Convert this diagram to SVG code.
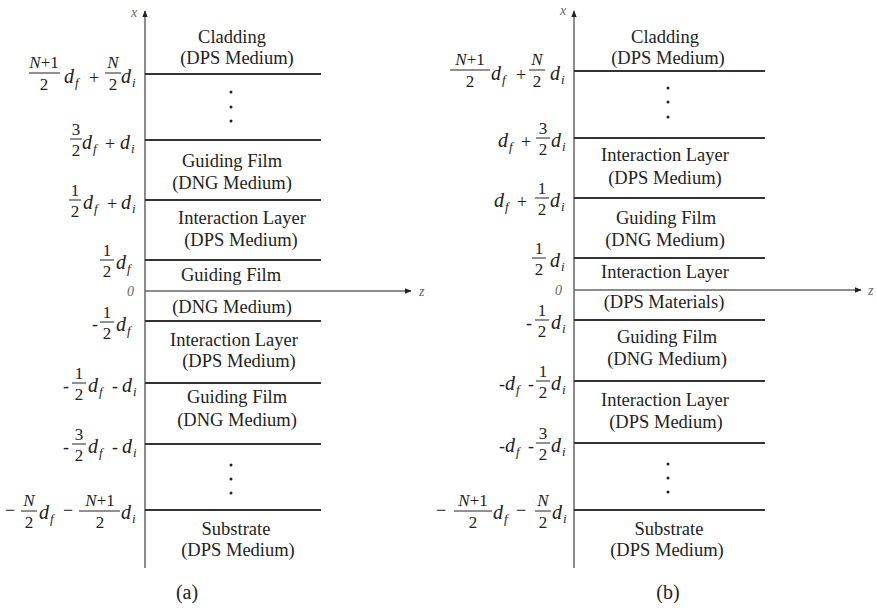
<svg xmlns="http://www.w3.org/2000/svg" width="877" height="611" viewBox="0 0 877 611">
<style>
text{font-family:'Liberation Serif','DejaVu Serif','Times New Roman',serif}
.t{font-size:18.5px;fill:#222;text-anchor:middle}
.cap{font-size:20px;fill:#222;text-anchor:middle}
.d{font-style:italic;font-size:20px;fill:#222}
.s{font-style:italic;font-size:13px;fill:#222}
.n{font-size:17px;fill:#222;text-anchor:middle}
.ni{font-size:17px;fill:#222;text-anchor:middle}
.op{font-size:18px;fill:#222;text-anchor:middle}
.ax{font-style:italic;font-size:14px;fill:#666}
.layer{stroke:#333;stroke-width:2}
.axis{stroke:#666;stroke-width:1.5;fill:none}
.bar{stroke:#222;stroke-width:1}
.dot{fill:#222}
</style>
<defs>
<marker id="arr" viewBox="0 0 10 10" refX="9" refY="5" markerWidth="7" markerHeight="7" orient="auto" markerUnits="userSpaceOnUse">
<path d="M0,1 L10,5 L0,9 z" fill="#222"/>
</marker>
</defs>

<g id="connectors">
<line class="axis" x1="145" y1="568" x2="145" y2="11" marker-end="url(#arr)"/>
<line class="axis" x1="145" y1="291" x2="411" y2="291" marker-end="url(#arr)"/>
<line class="axis" x1="574" y1="568" x2="574" y2="11" marker-end="url(#arr)"/>
<line class="axis" x1="574" y1="290" x2="861" y2="290" marker-end="url(#arr)"/>
<g id="lines-a">
<line class="layer" x1="145" y1="74" x2="321" y2="74"/>
<line class="layer" x1="145" y1="140" x2="321" y2="140"/>
<line class="layer" x1="145" y1="200" x2="321" y2="200"/>
<line class="layer" x1="145" y1="260" x2="321" y2="260"/>
<line class="layer" x1="145" y1="321" x2="321" y2="321"/>
<line class="layer" x1="145" y1="383" x2="321" y2="383"/>
<line class="layer" x1="145" y1="444" x2="321" y2="444"/>
<line class="layer" x1="145" y1="510" x2="321" y2="510"/>
</g>
<g id="lines-b">
<line class="layer" x1="574" y1="71" x2="765" y2="71"/>
<line class="layer" x1="574" y1="138" x2="765" y2="138"/>
<line class="layer" x1="574" y1="198" x2="765" y2="198"/>
<line class="layer" x1="574" y1="258" x2="765" y2="258"/>
<line class="layer" x1="574" y1="320" x2="765" y2="320"/>
<line class="layer" x1="574" y1="381" x2="765" y2="381"/>
<line class="layer" x1="574" y1="443" x2="765" y2="443"/>
<line class="layer" x1="574" y1="510" x2="765" y2="510"/>
</g>
</g>

<g id="axis-labels">
<text class="ax" x="131" y="17">x</text>
<text class="ax" x="419" y="296">z</text>
<text class="ax" x="127" y="296">0</text>
<text class="ax" x="560" y="15">x</text>
<text class="ax" x="868" y="295">z</text>
<text class="ax" x="555" y="295">0</text>
</g>

<g id="a-cladding"><text class="t" x="232" y="43">Cladding</text><text class="t" x="237" y="64">(DPS Medium)</text></g>
<g id="a-dots-top"><circle class="dot" cx="231" cy="92" r="1.5"/><circle class="dot" cx="231" cy="107" r="1.5"/><circle class="dot" cx="231" cy="121" r="1.5"/></g>
<g id="a-film1"><text class="t" x="232" y="167">Guiding Film</text><text class="t" x="232" y="189">(DNG Medium)</text></g>
<g id="a-inter1"><text class="t" x="242" y="224">Interaction Layer</text><text class="t" x="241" y="246">(DPS Medium)</text></g>
<g id="a-film2"><text class="t" x="231" y="281">Guiding Film</text><text class="t" x="232" y="313">(DNG Medium)</text></g>
<g id="a-inter2"><text class="t" x="234" y="346">Interaction Layer</text><text class="t" x="239" y="367">(DPS Medium)</text></g>
<g id="a-film3"><text class="t" x="237" y="403">Guiding Film</text><text class="t" x="237" y="426">(DNG Medium)</text></g>
<g id="a-dots-bot"><circle class="dot" cx="231" cy="465" r="1.5"/><circle class="dot" cx="231" cy="479" r="1.5"/><circle class="dot" cx="231" cy="493" r="1.5"/></g>
<g id="a-substrate"><text class="t" x="236" y="535">Substrate</text><text class="t" x="238" y="556">(DPS Medium)</text></g>
<g id="a-caption"><text class="cap" x="187" y="599">(a)</text></g>

<g id="b-cladding"><text class="t" x="665" y="43">Cladding</text><text class="t" x="668" y="64">(DPS Medium)</text></g>
<g id="b-dots-top"><circle class="dot" cx="668" cy="88" r="1.5"/><circle class="dot" cx="668" cy="102" r="1.5"/><circle class="dot" cx="668" cy="117" r="1.5"/></g>
<g id="b-inter1"><text class="t" x="665" y="161">Interaction Layer</text><text class="t" x="665" y="184">(DPS Medium)</text></g>
<g id="b-film1"><text class="t" x="666" y="224">Guiding Film</text><text class="t" x="665" y="246">(DNG Medium)</text></g>
<g id="b-inter2"><text class="t" x="665" y="278">Interaction Layer</text><text class="t" x="664" y="308">(DPS Materials)</text></g>
<g id="b-film2"><text class="t" x="667" y="343">Guiding Film</text><text class="t" x="667" y="365">(DNG Medium)</text></g>
<g id="b-inter3"><text class="t" x="665" y="406">Interaction Layer</text><text class="t" x="666" y="428">(DPS Medium)</text></g>
<g id="b-dots-bot"><circle class="dot" cx="668" cy="464" r="1.5"/><circle class="dot" cx="668" cy="478" r="1.5"/><circle class="dot" cx="668" cy="492" r="1.5"/></g>
<g id="b-substrate"><text class="t" x="669" y="535">Substrate</text><text class="t" x="667" y="556">(DPS Medium)</text></g>
<g id="b-caption"><text class="cap" x="668" y="599">(b)</text></g>

<g id="a-l1">
<text class="ni" x="44" y="68"><tspan font-style="italic">N</tspan>+1</text>
<line class="bar" x1="29" y1="73" x2="60" y2="73"/>
<text class="n" x="44" y="90">2</text>
<text class="d" x="64" y="83">d</text><text class="s" x="75" y="87">f</text>
<text class="op" x="94" y="84">+</text>
<text class="ni" x="113" y="68" font-style="italic">N</text>
<line class="bar" x1="105" y1="73" x2="121" y2="73"/>
<text class="n" x="113" y="90">2</text>
<text class="d" x="121" y="83">d</text><text class="s" x="132" y="87">i</text>
</g>
<g id="a-l2">
<text class="n" x="76" y="135">3</text>
<line class="bar" x1="70" y1="139" x2="82" y2="139"/>
<text class="n" x="76" y="156">2</text>
<text class="d" x="82" y="149">d</text><text class="s" x="93" y="153">f</text>
<text class="op" x="110" y="150">+</text>
<text class="d" x="120" y="149">d</text><text class="s" x="131" y="153">i</text>
</g>
<g id="a-l3">
<text class="n" x="75" y="196">1</text>
<line class="bar" x1="69" y1="200" x2="81" y2="200"/>
<text class="n" x="75" y="217">2</text>
<text class="d" x="83" y="209">d</text><text class="s" x="94" y="213">f</text>
<text class="op" x="112" y="210">+</text>
<text class="d" x="121" y="209">d</text><text class="s" x="132" y="213">i</text>
</g>
<g id="a-l4">
<text class="n" x="107" y="256">1</text>
<line class="bar" x1="100" y1="260" x2="114" y2="260"/>
<text class="n" x="107" y="277">2</text>
<text class="d" x="116" y="269">d</text><text class="s" x="127" y="273">f</text>
</g>
<g id="a-l6">
<text class="op" x="95" y="330">-</text>
<text class="n" x="107" y="318">1</text>
<line class="bar" x1="100" y1="322" x2="114" y2="322"/>
<text class="n" x="107" y="339">2</text>
<text class="d" x="116" y="331">d</text><text class="s" x="127" y="335">f</text>
</g>
<g id="a-l7">
<text class="op" x="66" y="392">-</text>
<text class="n" x="79" y="379">1</text>
<line class="bar" x1="72" y1="383" x2="86" y2="383"/>
<text class="n" x="79" y="400">2</text>
<text class="d" x="88" y="392">d</text><text class="s" x="99" y="396">f</text>
<text class="op" x="115" y="392">-</text>
<text class="d" x="122" y="392">d</text><text class="s" x="133" y="396">i</text>
</g>
<g id="a-l8">
<text class="op" x="66" y="453">-</text>
<text class="n" x="79" y="440">3</text>
<line class="bar" x1="72" y1="444" x2="86" y2="444"/>
<text class="n" x="79" y="461">2</text>
<text class="d" x="88" y="453">d</text><text class="s" x="99" y="457">f</text>
<text class="op" x="115" y="453">-</text>
<text class="d" x="122" y="453">d</text><text class="s" x="133" y="457">i</text>
</g>
<g id="a-l9">
<text class="op" x="10" y="516">−</text>
<text class="ni" x="29" y="506" font-style="italic">N</text>
<line class="bar" x1="21" y1="511" x2="37" y2="511"/>
<text class="n" x="29" y="528">2</text>
<text class="d" x="39" y="519">d</text><text class="s" x="50" y="523">f</text>
<text class="op" x="68" y="516">−</text>
<text class="ni" x="100" y="506"><tspan font-style="italic">N</tspan>+1</text>
<line class="bar" x1="79" y1="511" x2="120" y2="511"/>
<text class="n" x="100" y="528">2</text>
<text class="d" x="121" y="519">d</text><text class="s" x="132" y="523">i</text>
</g>

<g id="b-l1">
<text class="ni" x="470" y="65"><tspan font-style="italic">N</tspan>+1</text>
<line class="bar" x1="450" y1="70" x2="490" y2="70"/>
<text class="n" x="470" y="87">2</text>
<text class="d" x="491" y="80">d</text><text class="s" x="502" y="84">f</text>
<text class="op" x="521" y="81">+</text>
<text class="ni" x="537" y="65" font-style="italic">N</text>
<line class="bar" x1="529" y1="70" x2="545" y2="70"/>
<text class="n" x="537" y="87">2</text>
<text class="d" x="550" y="80">d</text><text class="s" x="561" y="84">i</text>
</g>
<g id="b-l2">
<text class="d" x="498" y="147">d</text><text class="s" x="509" y="151">f</text>
<text class="op" x="526" y="148">+</text>
<text class="n" x="543" y="134">3</text>
<line class="bar" x1="536" y1="138" x2="550" y2="138"/>
<text class="n" x="543" y="155">2</text>
<text class="d" x="551" y="147">d</text><text class="s" x="562" y="151">i</text>
</g>
<g id="b-l3">
<text class="d" x="494" y="207">d</text><text class="s" x="505" y="211">f</text>
<text class="op" x="522" y="208">+</text>
<text class="n" x="542" y="194">1</text>
<line class="bar" x1="535" y1="198" x2="549" y2="198"/>
<text class="n" x="542" y="215">2</text>
<text class="d" x="550" y="207">d</text><text class="s" x="561" y="211">i</text>
</g>
<g id="b-l4">
<text class="n" x="539" y="254">1</text>
<line class="bar" x1="532" y1="258" x2="546" y2="258"/>
<text class="n" x="539" y="275">2</text>
<text class="d" x="550" y="267">d</text><text class="s" x="561" y="271">i</text>
</g>
<g id="b-l6">
<text class="op" x="529" y="329">-</text>
<text class="n" x="542" y="316">1</text>
<line class="bar" x1="535" y1="320" x2="549" y2="320"/>
<text class="n" x="542" y="337">2</text>
<text class="d" x="551" y="329">d</text><text class="s" x="562" y="333">i</text>
</g>
<g id="b-l7">
<text class="op" x="502" y="390">-</text>
<text class="d" x="505" y="390">d</text><text class="s" x="516" y="394">f</text>
<text class="op" x="531" y="390">-</text>
<text class="n" x="543" y="377">1</text>
<line class="bar" x1="536" y1="381" x2="550" y2="381"/>
<text class="n" x="543" y="398">2</text>
<text class="d" x="551" y="390">d</text><text class="s" x="562" y="394">i</text>
</g>
<g id="b-l8">
<text class="op" x="502" y="452">-</text>
<text class="d" x="505" y="452">d</text><text class="s" x="516" y="456">f</text>
<text class="op" x="531" y="452">-</text>
<text class="n" x="543" y="439">3</text>
<line class="bar" x1="536" y1="443" x2="550" y2="443"/>
<text class="n" x="543" y="460">2</text>
<text class="d" x="551" y="452">d</text><text class="s" x="562" y="456">i</text>
</g>
<g id="b-l9">
<text class="op" x="441" y="516">−</text>
<text class="ni" x="473" y="506"><tspan font-style="italic">N</tspan>+1</text>
<line class="bar" x1="454" y1="511" x2="492" y2="511"/>
<text class="n" x="473" y="528">2</text>
<text class="d" x="493" y="519">d</text><text class="s" x="504" y="523">f</text>
<text class="op" x="521" y="516">−</text>
<text class="ni" x="543" y="506" font-style="italic">N</text>
<line class="bar" x1="535" y1="511" x2="551" y2="511"/>
<text class="n" x="543" y="528">2</text>
<text class="d" x="552" y="519">d</text><text class="s" x="563" y="523">i</text>
</g>
</svg>
